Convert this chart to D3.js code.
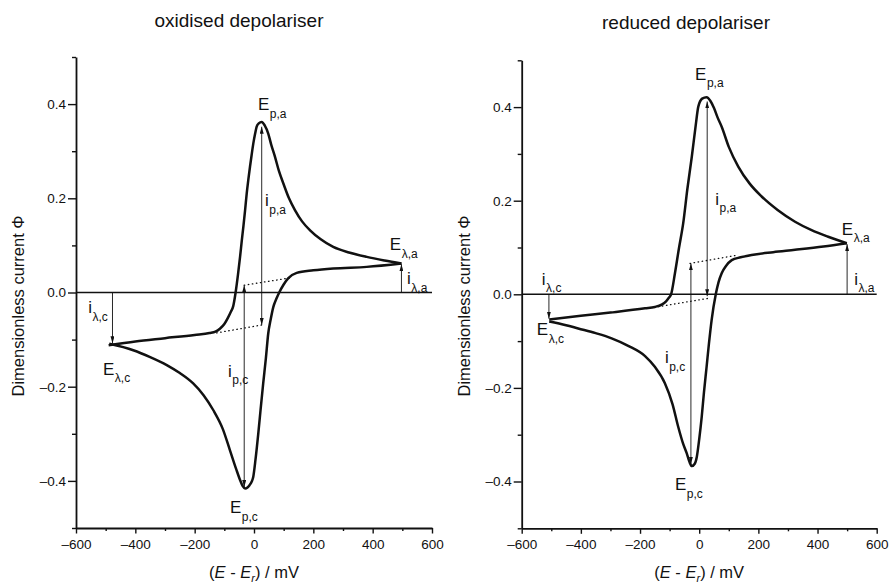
<!DOCTYPE html>
<html>
<head>
<meta charset="utf-8">
<script src="https://cdn.jsdelivr.net/npm/d3@7"></script>
<style>
    body { margin: 0; background: #fff; }
    svg { font-family: "Liberation Sans", Arial, sans-serif; }
</style>
</head>
<body>
<div id="chart"></div>
<script>
// tick values
var xTicks = [-600, -400, -200, 0, 200, 400, 600];
var xMinorTicks = [-500, -300, -100, 100, 300, 500];
var yTicks = [-0.4, -0.2, 0.0, 0.2, 0.4];
var yMinorTicks = [-0.5, -0.3, -0.1, 0.1, 0.3, 0.5];

// oxidised depolariser: anodic branch (upper) and cathodic branch (lower), E in mV, dimensionless current
var oxAnodicE = [-490, -400, -300, -200, -150, -130, -115, -100, -88, -78, -70, -62, -54, -47, -41, -36, -30, -24.6, -19, -13.5, -8, -2.4, 4, 9, 16, 26, 36, 48, 58, 70.8, 84, 99, 118, 138, 162, 189, 225, 267, 320, 380, 440, 497];
var oxAnodicPhi = [-0.112, -0.104, -0.097, -0.090, -0.086, -0.083, -0.077, -0.067, -0.054, -0.041, -0.029, 0.0, 0.038, 0.0756, 0.111, 0.139, 0.175, 0.210, 0.240, 0.267, 0.292, 0.316, 0.338, 0.352, 0.359, 0.362, 0.355, 0.3375, 0.314, 0.288, 0.258, 0.2314, 0.200, 0.175, 0.151, 0.132, 0.113, 0.0968, 0.085, 0.0756, 0.068, 0.0616];
var oxCathodicE = [-488, -407, -350, -294, -250, -205, -170, -137, -105, -81, -60, -47, -38, -30, -22, -15, -8, -2.4, 5, 14.5, 22, 31, 40, 48, 56, 65, 75, 85, 100, 115, 144, 200, 267, 380, 497];
var oxCathodicPhi = [-0.109, -0.1225, -0.137, -0.154, -0.171, -0.193, -0.218, -0.250, -0.290, -0.335, -0.375, -0.398, -0.411, -0.416, -0.414, -0.409, -0.402, -0.391, -0.355, -0.299, -0.250, -0.193, -0.140, -0.087, -0.058, -0.031, -0.014, 0.0, 0.017, 0.030, 0.0416, 0.047, 0.051, 0.0544, 0.0616];

// reduced depolariser
var redAnodicE = [-507, -400, -300, -183, -150, -127, -112, -102, -95, -82, -68, -54, -40, -25, -12, -3, 10, 25, 38, 50, 62, 76, 100, 132, 170, 211, 265, 324, 380, 436, 499];
var redAnodicPhi = [-0.054, -0.046, -0.039, -0.030, -0.027, -0.022, -0.015, -0.007, 0.0, 0.045, 0.100, 0.152, 0.225, 0.294, 0.360, 0.401, 0.418, 0.421, 0.413, 0.398, 0.378, 0.358, 0.315, 0.273, 0.237, 0.209, 0.180, 0.155, 0.137, 0.123, 0.109];
var redCathodicE = [-507, -450, -409, -350, -296, -240, -183, -150, -116, -90, -71, -55, -42, -33, -25, -15, -8, 0, 8.5, 16, 25, 33, 42, 56, 65, 76, 90, 110, 140, 177, 250, 324, 420, 499];
var redCathodicPhi = [-0.058, -0.066, -0.073, -0.083, -0.094, -0.110, -0.132, -0.155, -0.190, -0.235, -0.283, -0.318, -0.340, -0.358, -0.367, -0.362, -0.347, -0.310, -0.262, -0.210, -0.155, -0.105, -0.055, 0.0, 0.025, 0.045, 0.060, 0.073, 0.079, 0.084, 0.090, 0.095, 0.102, 0.109];

// extrapolated baselines (dotted), [E, phi] pairs
var oxBaselines = [[[-33, 0.0155], [121, 0.031]], [[-126, -0.0857], [26, -0.069]]];
var redBaselines = [[[-31, 0.066], [132, 0.084]], [[-138, -0.0265], [31, -0.0086]]];

// current arrows: E, from phi, to phi, double headed
var oxArrows = [
    {e: 26, from: -0.069, to: 0.352, both: true},
    {e: -33, from: 0.0155, to: -0.413, both: true},
    {e: 497, from: 0, to: 0.060, both: false},
    {e: -477, from: 0, to: -0.108, both: false}
];
var redArrows = [
    {e: 27, from: -0.004, to: 0.412, both: true},
    {e: -28, from: 0.066, to: -0.362, both: true},
    {e: 500, from: 0, to: 0.107, both: false},
    {e: -508, from: 0, to: -0.052, both: false}
];

// labels: symbol, subscript, anchor in data units
var oxLabels = [
    {main: "E", sub: "p,a", e: 13.5, phi: 0.387},
    {main: "i", sub: "p,a", e: 37, phi: 0.183},
    {main: "E", sub: "λ,a", e: 458, phi: 0.090},
    {main: "i", sub: "λ,a", e: 516, phi: 0.018},
    {main: "i", sub: "λ,c", e: -559, phi: -0.044},
    {main: "E", sub: "λ,c", e: -509, phi: -0.175},
    {main: "i", sub: "p,c", e: -87.6, phi: -0.179},
    {main: "E", sub: "p,c", e: -81, phi: -0.469}
];
var redLabels = [
    {main: "E", sub: "p,a", e: -14, phi: 0.458},
    {main: "i", sub: "p,a", e: 54, phi: 0.191},
    {main: "E", sub: "λ,a", e: 482, phi: 0.127},
    {main: "i", sub: "λ,a", e: 524, phi: 0.020},
    {main: "i", sub: "λ,c", e: -532, phi: 0.020},
    {main: "E", sub: "λ,c", e: -549, phi: -0.087},
    {main: "i", sub: "p,c", e: -116, phi: -0.147},
    {main: "E", sub: "p,c", e: -82, phi: -0.419}
];

var width = 889, height = 584;
var ink = "#111";

var svg = d3.select("#chart")
    .append("svg")
    .attr("width", width)
    .attr("height", height);

svg.append("defs").append("marker")
    .attr("id", "head")
    .attr("viewBox", "0 0 10 10")
    .attr("refX", 10)
    .attr("refY", 5)
    .attr("markerUnits", "userSpaceOnUse")
    .attr("markerWidth", 7)
    .attr("markerHeight", 4)
    .attr("preserveAspectRatio", "none")
    .attr("orient", "auto-start-reverse")
    .append("path")
        .attr("d", "M0,0L10,5L0,10z")
        .attr("fill", ink);

function dash(s) { return String(s).replace("-", "–").replace("−", "–"); }

function zip(a, b) { return a.map(function(d, i) { return [d, b[i]]; }); }

function drawPanel(p) {
    var xScale = d3.scaleLinear().domain([-600, 600]).range([p.left, p.right]);
    var yScale = d3.scaleLinear().domain([-0.5, 0.5]).range([p.bottom, p.top]);
    var g = svg.append("g");

    // minor ticks
    g.append("g")
        .attr("transform", `translate(0, ${p.bottom})`)
        .call(d3.axisBottom(xScale).tickValues(xMinorTicks).tickSize(3).tickFormat(""))
        .call(function(a) { a.select(".domain").remove(); });
    g.append("g")
        .attr("transform", `translate(${p.left}, 0)`)
        .call(d3.axisLeft(yScale).tickValues(yMinorTicks).tickSize(4).tickFormat(""))
        .call(function(a) { a.select(".domain").remove(); });

    // major ticks + labels
    var xAxis = g.append("g")
        .attr("transform", `translate(0, ${p.bottom})`)
        .call(d3.axisBottom(xScale).tickValues(xTicks).tickSize(5.5).tickSizeOuter(0).tickPadding(6)
            .tickFormat(function(d) { return dash(d); }));
    var yAxis = g.append("g")
        .attr("transform", `translate(${p.left}, 0)`)
        .call(d3.axisLeft(yScale).tickValues(yTicks).tickSize(8).tickSizeOuter(0).tickPadding(2)
            .tickFormat(function(d) { return dash(d3.format(".1f")(d)); }));

    [xAxis, yAxis].forEach(function(a) {
        a.attr("font-size", 13.5).attr("font-family", null);
        a.select(".domain").attr("stroke", ink).attr("stroke-width", 1.8);
        a.selectAll("text").attr("fill", ink);
    });
    g.selectAll(".tick line").attr("stroke", ink).attr("stroke-width", 1.4);

    // zero line
    g.append("line")
        .attr("x1", xScale(-600)).attr("x2", xScale(600))
        .attr("y1", yScale(0)).attr("y2", yScale(0))
        .attr("stroke", ink).attr("stroke-width", 1.5);

    // dotted baselines
    g.selectAll(".base")
        .data(p.baselines)
        .enter()
        .append("line")
            .attr("class", "base")
            .attr("x1", function(d) { return xScale(d[0][0]); })
            .attr("y1", function(d) { return yScale(d[0][1]); })
            .attr("x2", function(d) { return xScale(d[1][0]); })
            .attr("y2", function(d) { return yScale(d[1][1]); })
            .attr("stroke", ink)
            .attr("stroke-width", 1.3)
            .attr("stroke-linecap", "round")
            .attr("stroke-dasharray", "0.5,3.6");

    // arrows
    g.selectAll(".arrow")
        .data(p.arrows)
        .enter()
        .append("line")
            .attr("class", "arrow")
            .attr("x1", function(d) { return xScale(d.e); })
            .attr("x2", function(d) { return xScale(d.e); })
            .attr("y1", function(d) { return yScale(d.from); })
            .attr("y2", function(d) { return yScale(d.to); })
            .attr("stroke", ink)
            .attr("stroke-width", 0.9)
            .attr("marker-end", "url(#head)")
            .attr("marker-start", function(d) { return d.both ? "url(#head)" : null; });

    // voltammogram
    var line = d3.line()
        .x(function(d) { return xScale(d[0]); })
        .y(function(d) { return yScale(d[1]); })
        .curve(d3.curveMonotoneX);

    g.selectAll(".cv")
        .data(p.branches)
        .enter()
        .append("path")
            .attr("class", "cv")
            .attr("d", line)
            .attr("fill", "none")
            .attr("stroke", ink)
            .attr("stroke-width", 2.5)
            .attr("stroke-linejoin", "round");

    // labels
    var labels = g.selectAll(".lab")
        .data(p.labels)
        .enter()
        .append("text")
            .attr("class", "lab")
            .attr("x", function(d) { return xScale(d.e); })
            .attr("y", function(d) { return yScale(d.phi); })
            .attr("font-size", 17)
            .attr("fill", ink);
    labels.append("tspan").text(function(d) { return d.main; });
    labels.append("tspan")
        .attr("font-size", 12)
        .attr("dx", 0.5)
        .attr("dy", 7.5)
        .text(function(d) { return d.sub; });

    // title
    svg.append("text")
        .attr("x", p.titleX)
        .attr("y", p.titleY)
        .attr("text-anchor", "middle")
        .attr("font-size", 19)
        .attr("fill", ink)
        .text(p.title);

    // y label
    svg.append("text")
        .attr("transform", "rotate(-90)")
        .attr("x", -306)
        .attr("y", p.left - 52)
        .attr("text-anchor", "middle")
        .attr("font-size", 16.5)
        .attr("fill", ink)
        .text("Dimensionless current Φ");

    // x label
    var xl = svg.append("text")
        .attr("x", (p.left + p.right) / 2)
        .attr("y", 578)
        .attr("text-anchor", "middle")
        .attr("font-size", 16.5)
        .attr("fill", ink);
    xl.append("tspan").text("(");
    xl.append("tspan").attr("font-style", "italic").text("E");
    xl.append("tspan").text(" - ");
    xl.append("tspan").attr("font-style", "italic").text("E");
    xl.append("tspan").attr("font-style", "italic").attr("font-size", 11).attr("dy", 4).text("r");
    xl.append("tspan").attr("dy", -4).text(") / mV");
}

drawPanel({
    left: 76, right: 432, top: 57, bottom: 528,
    title: "oxidised depolariser", titleX: 239, titleY: 27,
    branches: [zip(oxAnodicE, oxAnodicPhi), zip(oxCathodicE, oxCathodicPhi)],
    baselines: oxBaselines,
    arrows: oxArrows,
    labels: oxLabels
});

drawPanel({
    left: 521.7, right: 876.7, top: 60.3, bottom: 528.3,
    title: "reduced depolariser", titleX: 686, titleY: 29,
    branches: [zip(redAnodicE, redAnodicPhi), zip(redCathodicE, redCathodicPhi)],
    baselines: redBaselines,
    arrows: redArrows,
    labels: redLabels
});
</script>
</body>
</html>
